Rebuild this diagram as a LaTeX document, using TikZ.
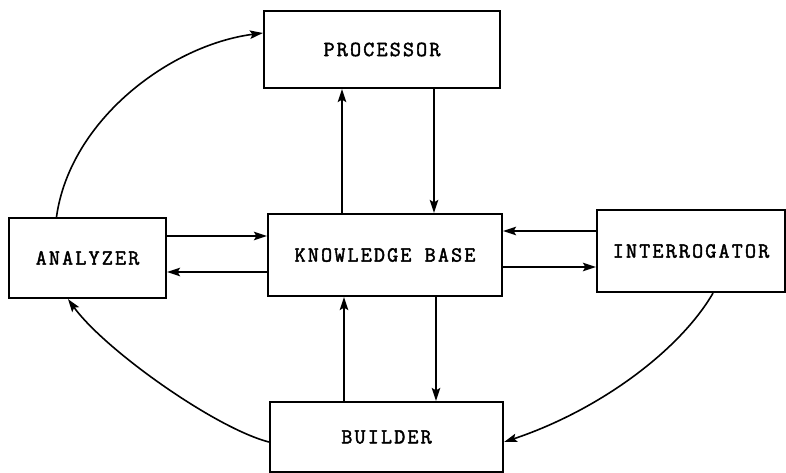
\documentclass[tikz,border=0pt]{standalone}
\usepackage{fontspec}
\usetikzlibrary{arrows.meta}
\newfontfamily\typerfont[LetterSpace=10,FakeBold=2]{Latin Modern Mono}
\newcommand{\labelfont}{\typerfont\fontsize{21.5}{22}\selectfont}
\begin{document}
\begin{tikzpicture}[x=1pt,y=-1pt,
  box/.style={draw, line width=2.2pt, inner sep=0pt, font=\labelfont},
  arr/.style={line width=1.6pt, -{Stealth[length=13pt,width=8.5pt,inset=2.5pt]}}]
\useasboundingbox (0,0) rectangle (786,473);

% boxes
\node[box, minimum width=236pt, minimum height=77pt] (proc) at (382,49.5) {PROCESSOR};
\node[box, minimum width=234pt, minimum height=82pt] (kb) at (385,255) {KNOWLEDGE BASE};
\node[box, minimum width=157pt, minimum height=80pt] (an) at (87.5,258) {ANALYZER};
\node[box, minimum width=188pt, minimum height=82pt] (int) at (691,251) {INTERROGATOR};
\node[box, minimum width=233pt, minimum height=70pt] (bld) at (386.5,437) {BUILDER};

% vertical links between knowledge base, processor and builder
\draw[arr] ([xshift=-43pt]kb.north) -- ([xshift=-43pt]kb.north |- proc.south);
\draw[arr] ([xshift=52pt]proc.south) -- ([xshift=52pt]proc.south |- kb.north);
\draw[arr] ([xshift=-42.5pt]bld.north) -- ([xshift=-42.5pt]bld.north |- kb.south);
\draw[arr] ([xshift=51pt]kb.south) -- ([xshift=51pt]kb.south |- bld.north);

% horizontal links with analyzer and interrogator
\draw[arr] ([yshift=22pt]an.east) -- ([yshift=22pt]an.east -| kb.west);
\draw[arr] ([yshift=-14pt]an.east -| kb.west) -- ([yshift=-14pt]an.east);
\draw[arr] ([yshift=20pt]int.west) -- ([yshift=20pt]int.west -| kb.east);
\draw[arr] ([yshift=-16pt]int.west -| kb.east) -- ([yshift=-16pt]int.west);

% outer curved links
\draw[arr] ([xshift=-31pt]an.north) .. controls (70,120) and (170,45) .. ([yshift=16.5pt]proc.west);
\draw[arr] ([yshift=-5pt]bld.west) .. controls (215,428) and (105,350) .. ([xshift=-19.5pt]an.south);
\draw[arr] ([xshift=22pt]int.south) .. controls (680,350) and (600,410) .. ([yshift=-5pt]bld.east);
\end{tikzpicture}
\end{document}
